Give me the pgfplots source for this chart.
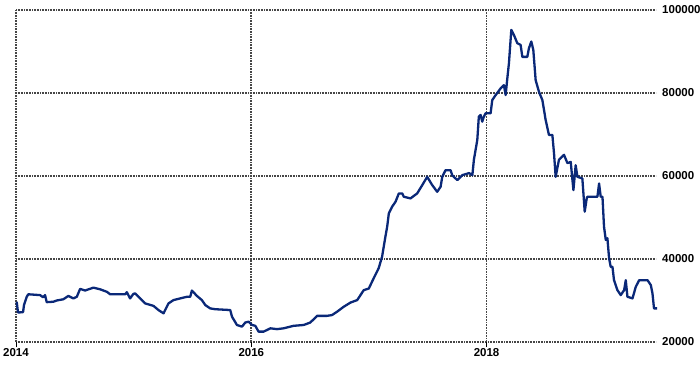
\documentclass[border=0pt]{standalone}
\usepackage{fontspec}
\setmainfont{Liberation Sans}
\usepackage{pgfplots}
\pgfplotsset{compat=1.18}
\definecolor{seriesblue}{RGB}{10,40,120}
\definecolor{gridgray}{RGB}{70,70,70}
\begin{document}
\begin{tikzpicture}[x=1pt,y=1pt]
\begin{axis}[
  at={(0,0)}, anchor=south west,
  scale only axis, width=640pt, height=332pt,
  xmin=2014, xmax=2019.44, ymin=20000, ymax=100000,
  xtick={2014,2016,2018},
  xticklabels={2014,2016,2018},
  ytick={20000,40000,60000,80000,100000},
  yticklabels={20000,40000,60000,80000,100000},
  scaled y ticks=false,
  grid=major,
  major grid style={dash pattern=on 0.8pt off 0.8pt, gridgray, line width=1.6pt},
  axis line style={draw=none},
  tick align=outside,
  xtick pos=bottom,
  ytick pos=right,
  yticklabel pos=right,
  major tick length=5pt,
  xtick style={black, line width=0.8pt},
  ytick style={draw=none},
  ticklabel style={font=\bfseries\fontsize{11.5}{13}\selectfont, text=black, inner sep=1pt},
  yticklabel style={xshift=0pt},
  clip=false,
]
\addplot[seriesblue, line width=2.3pt, line join=round] table {
x y
2014.006 29700
2014.017 27100
2014.060 27200
2014.068 28900
2014.091 30900
2014.105 31500
2014.204 31300
2014.230 30800
2014.247 31300
2014.261 29600
2014.317 29700
2014.346 30000
2014.403 30300
2014.445 31100
2014.488 30500
2014.517 30900
2014.545 32800
2014.587 32400
2014.658 33100
2014.715 32700
2014.772 32100
2014.800 31500
2014.928 31500
2014.942 32000
2014.970 30500
2014.998 31600
2015.013 31700
2015.055 30500
2015.098 29300
2015.169 28700
2015.211 27700
2015.254 26900
2015.296 29300
2015.339 30100
2015.396 30500
2015.453 30900
2015.481 30900
2015.495 32400
2015.538 31100
2015.580 30100
2015.609 28900
2015.651 28100
2015.694 27900
2015.821 27700
2015.836 26100
2015.878 24100
2015.921 23700
2015.949 24700
2015.977 24900
2016.006 24100
2016.034 23900
2016.062 22500
2016.105 22500
2016.162 23300
2016.219 23100
2016.275 23300
2016.360 23900
2016.445 24100
2016.502 24700
2016.559 26300
2016.644 26300
2016.687 26500
2016.729 27300
2016.786 28500
2016.843 29500
2016.900 30100
2016.956 32500
2016.999 32900
2017.041 35400
2017.083 37800
2017.112 40600
2017.140 45400
2017.155 47800
2017.169 51000
2017.197 52600
2017.226 53800
2017.254 55800
2017.283 55800
2017.296 55000
2017.353 54600
2017.410 55800
2017.453 57800
2017.495 59800
2017.538 57800
2017.580 56200
2017.609 57400
2017.623 59800
2017.651 61400
2017.694 61400
2017.708 60200
2017.751 59000
2017.793 60200
2017.851 60700
2017.879 60200
2017.892 63900
2017.921 68700
2017.934 74300
2017.949 74700
2017.963 73100
2017.977 74300
2017.991 75100
2018.034 75100
2018.048 78300
2018.077 79500
2018.119 81100
2018.147 81900
2018.162 79500
2018.176 83500
2018.190 87200
2018.210 95200
2018.232 94000
2018.261 92000
2018.289 91600
2018.304 88700
2018.346 88700
2018.360 90800
2018.380 92400
2018.397 90400
2018.417 83100
2018.445 80300
2018.474 78300
2018.502 73500
2018.530 69900
2018.559 69900
2018.573 65500
2018.587 59800
2018.615 63900
2018.658 65100
2018.687 63100
2018.715 63400
2018.738 56600
2018.757 62600
2018.772 59800
2018.814 59400
2018.834 51400
2018.851 54600
2018.857 55000
2018.942 55000
2018.956 58200
2018.970 55000
2018.985 55000
2018.998 47800
2019.013 44600
2019.027 45000
2019.041 40200
2019.055 38100
2019.070 38100
2019.083 34900
2019.112 32500
2019.140 31300
2019.169 32500
2019.183 34900
2019.197 30900
2019.240 30500
2019.268 33300
2019.297 34900
2019.368 34900
2019.396 33700
2019.410 31700
2019.423 28100
2019.450 28100
};
\end{axis}
\pgfresetboundingbox
\path[use as bounding box] (-16,-22) rectangle (684,342);
\end{tikzpicture}
\end{document}
